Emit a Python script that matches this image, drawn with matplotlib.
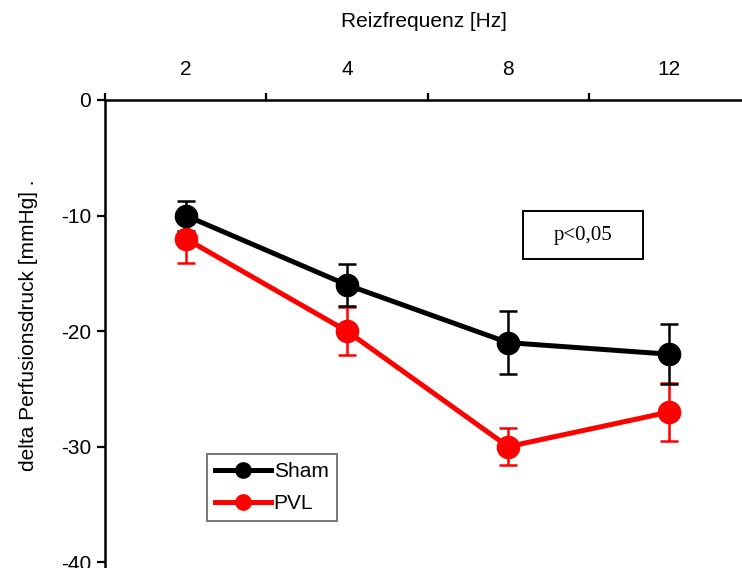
import matplotlib
matplotlib.use('Agg')
import matplotlib.pyplot as plt
from matplotlib.lines import Line2D
from matplotlib.patches import Rectangle

# Daten
freq_labels = ['2', '4', '8', '12']
sham_mean = [-10, -16, -21, -22]
sham_err = [1.3, 1.8, 2.75, 2.6]
pvl_mean = [-12, -20, -30, -27]
pvl_err = [2.1, 2.1, 1.6, 2.5]

plt.rcParams['font.family'] = ['Liberation Sans', 'DejaVu Sans']
plt.rcParams['axes.unicode_minus'] = False

fig = plt.figure(figsize=(7.42, 5.68), dpi=100)
ax = fig.add_axes([0.1415, 0.0, 0.8585, 0.824])

x = list(range(1, len(freq_labels) + 1))

# PVL zuerst, Sham darueber
for mean, err, col in [(pvl_mean, pvl_err, 'red'), (sham_mean, sham_err, 'black')]:
    ax.errorbar(x, mean, yerr=err, color=col, lw=3.6, marker='o', ms=16,
                elinewidth=1.8, capsize=6.5, capthick=1.8, zorder=3)

ax.set_xlim(0.5, 4.45)
ax.set_ylim(-40.5, 0)

# Achsen
ax.spines['bottom'].set_visible(False)
ax.spines['right'].set_visible(False)
ax.spines['top'].set_linewidth(1.8)
ax.spines['left'].set_linewidth(1.8)

ax.xaxis.tick_top()
ax.set_xticks([0.5, 1.5, 2.5, 3.5])
ax.set_xticklabels([])
ax.set_xticks(x, minor=True)
ax.set_xticklabels(freq_labels, minor=True)
ax.tick_params(axis='x', which='major', direction='out', length=5, width=1.6)
ax.tick_params(axis='x', which='minor', length=0, pad=15, labelsize=15)
ax.set_yticks([0, -10, -20, -30, -40])
ax.tick_params(axis='y', direction='out', length=6, width=1.6, labelsize=15, pad=4)

ax.set_xlabel('Reizfrequenz [Hz]', fontsize=15, labelpad=23.5)
ax.xaxis.set_label_position('top')
ax.set_ylabel('delta Perfusionsdruck [mmHg] .', fontsize=15)
ax.yaxis.set_label_coords(-0.105, 0.519)

# p-Wert Box
ax.add_patch(Rectangle((3.095, -13.77), 0.744, 4.16, fill=False, ec='black',
                       lw=1.4, zorder=4))
ax.text(3.467, -11.69, 'p<0,05', fontsize=15, family='Liberation Serif',
        ha='center', va='center', zorder=5)

# Legende
handles = [Line2D([], [], color='black', lw=3.6, marker='o', ms=11),
           Line2D([], [], color='red', lw=3.6, marker='o', ms=11)]
leg = ax.legend(handles, ['Sham', 'PVL'], loc='upper left',
                bbox_to_anchor=(0.160, 0.2436), fontsize=15, fancybox=False,
                handlelength=2.7, handletextpad=0.1, borderpad=0.4,
                labelspacing=0.6, borderaxespad=0)
leg.get_frame().set_edgecolor('#555555')
leg.get_frame().set_linewidth(1.4)

fig.savefig('out.png', dpi=100)
